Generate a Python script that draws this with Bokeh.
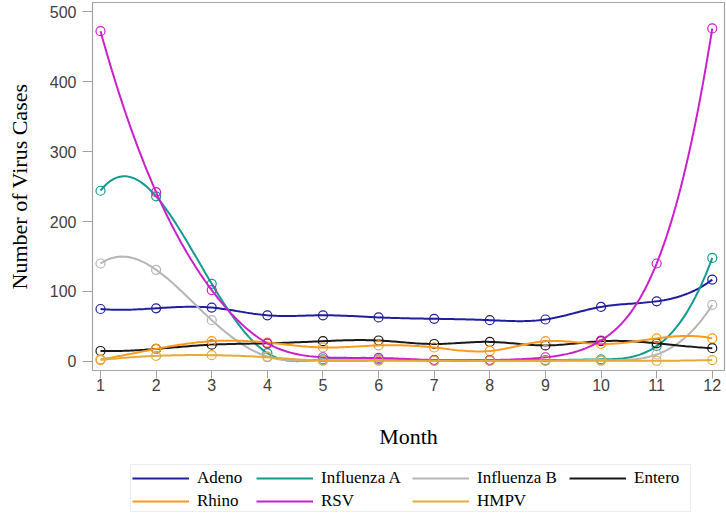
import numpy as np
from bokeh.plotting import figure
from bokeh.models import Legend, LegendItem, FixedTicker, Range1d, BoxAnnotation
from bokeh.layouts import column
from bokeh.embed import file_html
from bokeh.resources import INLINE

months = [1, 2, 3, 4, 5, 6, 7, 8, 9, 10, 11, 12]
adeno = [75, 76, 77, 66, 66, 63, 61, 59, 60, 78, 86, 117]
influenza_a = [244, 236, 111, 12, 3, 3, 2, 2, 2, 3, 22, 148]
influenza_b = [140, 131, 59, 7, 2, 2, 1, 1, 1, 2, 10, 81]
entero = [15, 18, 24, 26, 29, 30, 25, 28, 23, 29, 26, 19]
rhino = [3, 18, 29, 27, 20, 23, 20, 15, 29, 25, 33, 33]
rsv = [472, 242, 102, 26, 6, 5, 2, 2, 6, 30, 140, 476]
hmpv = [2, 8, 9, 6, 1, 1, 1, 1, 1, 1, 1, 2]

series_names = ["Adeno", "Influenza A", "Influenza B", "Entero", "Rhino", "RSV", "HMPV"]
series_values = [adeno, influenza_a, influenza_b, entero, rhino, rsv, hmpv]
series_colors = ["#1f1f9e", "#139a8e", "#b5b5b5", "#181818", "#ff9a1e", "#cc1fcc", "#e2ab3a"]

y_ticks = [0, 100, 200, 300, 400, 500]

# legend columns: which series go in each column of the legend box
legend_columns = [["Adeno", "Rhino"], ["Influenza A", "RSV"], ["Influenza B", "HMPV"], ["Entero"]]


def spline_not_a_knot(x, y, per=24):
    x = np.asarray(x, float)
    y = np.asarray(y, float)
    n = len(x)
    h = np.diff(x)
    A = np.zeros((n, n))
    b = np.zeros(n)
    # not-a-knot end conditions
    A[0, 0], A[0, 1], A[0, 2] = h[1], -(h[0] + h[1]), h[0]
    A[-1, -3], A[-1, -2], A[-1, -1] = h[-1], -(h[-2] + h[-1]), h[-2]
    for i in range(1, n - 1):
        A[i, i - 1] = h[i - 1]
        A[i, i] = 2 * (h[i - 1] + h[i])
        A[i, i + 1] = h[i]
        b[i] = 6 * ((y[i + 1] - y[i]) / h[i] - (y[i] - y[i - 1]) / h[i - 1])
    M = np.linalg.solve(A, b)
    xs, ys = [], []
    for i in range(n - 1):
        t = np.linspace(x[i], x[i + 1], per, endpoint=(i == n - 2))
        a = x[i + 1] - t
        c = t - x[i]
        s = (M[i] * a ** 3 + M[i + 1] * c ** 3) / (6 * h[i]) \
            + (y[i] / h[i] - M[i] * h[i] / 6) * a \
            + (y[i + 1] / h[i] - M[i + 1] * h[i] / 6) * c
        xs.extend(t)
        ys.extend(s)
    return xs, ys


p = figure(width=726, height=458, output_backend="svg", toolbar_location=None,
           x_range=Range1d(0.856, 12.22), y_range=Range1d(-12.9, 513),
           min_border_left=92, min_border_right=2, min_border_top=2, min_border_bottom=88)

p.xgrid.visible = False
p.ygrid.visible = False
p.outline_line_color = "#a3a3a3"
p.outline_line_width = 1.2
p.background_fill_color = "white"
p.border_fill_color = "white"

for name, vals, col in zip(series_names, series_values, series_colors):
    sx, sy = spline_not_a_knot(months, vals)
    p.line(sx, sy, line_color=col, line_width=2)
    p.scatter(months, vals, marker="circle", size=9, fill_alpha=0,
              line_color=col, line_width=1.2)

for ax in (p.xaxis[0], p.yaxis[0]):
    ax.axis_line_color = None
    ax.major_tick_line_color = "#a3a3a3"
    ax.major_tick_in = 0
    ax.minor_tick_line_color = None
    ax.major_label_text_font = "Liberation Sans"
    ax.major_label_text_font_size = "16px"
    ax.major_label_text_color = "#404040"
    ax.axis_label_text_font = "Liberation Serif"
    ax.axis_label_text_font_size = "22px"
    ax.axis_label_text_font_style = "normal"
    ax.axis_label_text_color = "#000000"

p.xaxis.ticker = FixedTicker(ticks=months)
p.yaxis.ticker = FixedTicker(ticks=y_ticks)
p.xaxis.major_tick_out = 8
p.yaxis.major_tick_out = 10
p.xaxis.axis_label = "Month"
p.yaxis.axis_label = "Number of Virus Cases"
p.xaxis.axis_label_standoff = 30
p.yaxis.axis_label_standoff = 15
p.xaxis.major_label_standoff = 0
p.yaxis.major_label_standoff = 6

# legend strip below the chart; its frame lines up with the chart frame,
# and the ranges are set in pixels so the box can be placed
q = figure(width=726, height=56, output_backend="svg", toolbar_location=None,
           x_range=Range1d(92, 724), y_range=Range1d(0, 56),
           x_axis_type=None, y_axis_type=None,
           min_border_left=92, min_border_right=2, min_border_top=0, min_border_bottom=0)
q.xgrid.visible = False
q.ygrid.visible = False
q.outline_line_color = None
q.border_fill_color = "white"
q.add_layout(BoxAnnotation(left=130, right=690, bottom=3, top=50, fill_alpha=0,
                           line_color="#c8c8c8", line_width=1))

leg_renderers = {}
for name, col in zip(series_names, series_values and series_colors):
    leg_renderers[name] = q.line([-100, -99], [-100, -99], line_color=col, line_width=2)

col_x = [40, 164, 320, 477]
for cx, names in zip(col_x, legend_columns):
    h = len(names) * 20 + (len(names) - 1) * 3 + 4
    lg = Legend(items=[LegendItem(label=n, renderers=[leg_renderers[n]]) for n in names],
                orientation="vertical", location=(cx, 50 - h),
                label_text_font="Liberation Serif", label_text_font_size="17px",
                label_text_color="#000000",
                glyph_width=57, glyph_height=20, label_standoff=8,
                spacing=3, padding=2, margin=0,
                border_line_color=None, background_fill_alpha=0)
    q.add_layout(lg)

layout = column(p, q, spacing=0)
open("out.html", "w").write(file_html(layout, INLINE))
